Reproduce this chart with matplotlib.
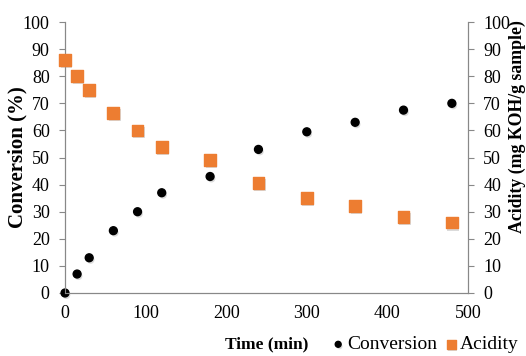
import matplotlib.pyplot as plt
import matplotlib.patheffects as pe

# data
time_min = [0, 15, 30, 60, 90, 120, 180, 240, 300, 360, 420, 480]
conversion = [0, 7, 13, 23, 30, 37, 43, 53, 59.5, 63, 67.5, 70]
acidity = [86, 80, 75, 66.5, 60, 54, 49, 40.5, 35, 32, 28, 26]

plt.rcParams['font.family'] = ['Liberation Serif', 'DejaVu Serif']
orange = '#ED7D31'
gray = '#888888'

fig = plt.figure(figsize=(5.26, 3.56), dpi=100)
ax = fig.add_axes([0.1236, 0.177, 0.7661, 0.761])
ax2 = ax.twinx()

shadow = [pe.SimplePatchShadow(offset=(1, -1.5), shadow_rgbFace='#999999', alpha=0.35), pe.Normal()]
h1 = ax.scatter(time_min, conversion, marker='o', s=32, color='black', zorder=3, label='Conversion',
                path_effects=shadow)
h2 = ax2.scatter(time_min, acidity, marker='s', s=72, color=orange, zorder=3, label='Acidity',
                 path_effects=shadow)

for a in (ax, ax2):
    a.set_ylim(0, 100)
    a.set_yticks(range(0, 101, 10))
    a.spines['top'].set_visible(False)
    for s in ('left', 'right', 'bottom'):
        a.spines[s].set_color(gray)
    a.tick_params(axis='y', colors=gray, labelcolor='black', labelsize=13, length=4,
                  direction='out', pad=7)
ax.set_xlim(0, 500)
ax.set_xticks(range(0, 501, 100))
ax.tick_params(axis='x', length=0, labelsize=13, pad=9)
for coll in (h1, h2):
    coll.set_clip_on(False)

ax.set_ylabel('Conversion (%)', fontsize=15, fontweight='bold')
ax.yaxis.set_label_coords(-0.092, 0.50)
ax2.set_ylabel('Acidity (mg KOH/g sample)', fontsize=12.8, fontweight='bold')
ax2.yaxis.set_label_coords(1.102, 0.615)
ax.set_xlabel('Time (min)', fontsize=12.5, fontweight='bold', labelpad=10)

leg = fig.legend(handles=[h1, h2], loc='center right', bbox_to_anchor=(1.02, 0.032), ncol=2,
                 frameon=False, fontsize=14, handlelength=0.5, handletextpad=0.2,
                 columnspacing=0.5, markerscale=0.75)

fig.savefig('out.png', dpi=100)
